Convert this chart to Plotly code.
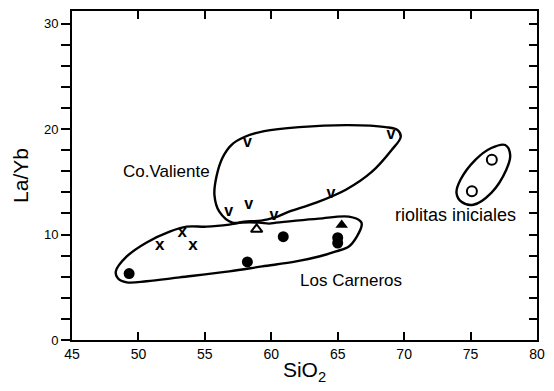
import plotly.graph_objects as go

# Co. Valiente samples (letter "v")
cv_sio2 = [58.2, 69.0, 64.5, 56.8, 58.3, 60.2]
cv_layb = [18.7, 19.4, 13.8, 12.1, 12.8, 11.8]

# Los Carneros samples
lc_x_sio2 = [51.6, 53.3, 54.1]
lc_x_layb = [8.9, 10.2, 8.9]
lc_dot_sio2 = [49.3, 58.2, 60.9, 65.0, 65.0]
lc_dot_layb = [6.3, 7.4, 9.8, 9.7, 9.2]
lc_tri_sio2 = [65.3]
lc_tri_layb = [10.9]
lc_otri_sio2 = [58.9]
lc_otri_layb = [10.5]

# riolitas iniciales
rio_sio2 = [76.6, 75.1]
rio_layb = [17.1, 14.1]

# field outlines (SiO2, La/Yb)
cv_field_x = [57.07, 56.09, 55.72, 55.87, 56.32, 56.99, 57.97, 59.47, 62.09, 65.84, 68.61,
              69.51, 69.74, 69.06, 67.56, 65.61, 63.37, 61.34, 60.22, 59.24, 57.97, 57.07]
cv_field_y = [11.13, 12.17, 13.77, 15.47, 17.26, 18.49, 19.25, 19.81, 20.19, 20.38, 20.19,
              19.91, 19.25, 18.02, 15.94, 14.25, 13.02, 12.17, 11.60, 11.32, 11.23, 11.13]
lc_field_x = [48.30, 49.12, 50.62, 52.35, 53.62, 55.12, 56.84, 57.82, 59.09, 59.84, 60.37,
              61.87, 63.59, 65.84, 66.74, 66.81, 66.44, 65.84, 64.87, 63.59, 61.87, 59.32,
              56.84, 53.10, 50.62, 49.12, 48.45, 48.30]
lc_field_y = [6.51, 7.92, 9.25, 10.28, 10.75, 10.75, 10.94, 11.13, 11.13, 11.04, 11.13,
              11.32, 11.51, 11.70, 11.23, 10.94, 9.81, 8.87, 8.40, 7.92, 7.45, 6.98,
              6.51, 5.94, 5.57, 5.47, 5.85, 6.51]
rio_field_x = [77.61, 77.98, 77.68, 76.56, 75.21, 74.31, 73.94, 74.24, 75.36, 76.56, 77.61]
rio_field_y = [18.49, 17.55, 16.13, 13.96, 12.83, 13.11, 13.96, 15.19, 17.08, 18.21, 18.49]

x_ticks = [45, 50, 55, 60, 65, 70, 75, 80]
y_ticks = [0, 10, 20, 30]

FONT = "Liberation Sans"
INK = "black"

fig = go.Figure()

for fx, fy in [(cv_field_x, cv_field_y), (lc_field_x, lc_field_y), (rio_field_x, rio_field_y)]:
    fig.add_trace(go.Scatter(x=fx, y=fy, mode="lines",
                             line=dict(color=INK, width=2.4, shape="spline", smoothing=1.0),
                             hoverinfo="skip", showlegend=False))

fig.add_trace(go.Scatter(x=cv_sio2, y=cv_layb, mode="text", text=["<b>v</b>"] * len(cv_sio2),
                         textfont=dict(family=FONT, size=16, color=INK), showlegend=False))
fig.add_trace(go.Scatter(x=lc_x_sio2, y=lc_x_layb, mode="text", text=["<b>x</b>"] * len(lc_x_sio2),
                         textfont=dict(family=FONT, size=17, color=INK), showlegend=False))
fig.add_trace(go.Scatter(x=lc_dot_sio2, y=lc_dot_layb, mode="markers",
                         marker=dict(symbol="circle", size=11, color=INK), showlegend=False))
fig.add_trace(go.Scatter(x=lc_tri_sio2, y=lc_tri_layb, mode="markers",
                         marker=dict(symbol="triangle-up", size=11, color=INK), showlegend=False))
fig.add_trace(go.Scatter(x=lc_otri_sio2, y=lc_otri_layb, mode="markers",
                         marker=dict(symbol="triangle-up-open", size=10, color=INK,
                                     line=dict(width=2)), showlegend=False))
fig.add_trace(go.Scatter(x=rio_sio2, y=rio_layb, mode="markers",
                         marker=dict(symbol="circle-open", size=10, color=INK,
                                     line=dict(width=2)), showlegend=False))
# carrier trace for the right-hand axis
fig.add_trace(go.Scatter(x=[45], y=[0], yaxis="y2", mode="markers",
                         marker=dict(opacity=0), hoverinfo="skip", showlegend=False))

labels = [("Co.Valiente", 52.1, 15.95, 17), ("Los Carneros", 66.0, 5.6, 17),
          ("riolitas iniciales", 73.9, 11.9, 18)]
for txt, lx, ly, fs in labels:
    fig.add_annotation(x=lx, y=ly, text=txt, showarrow=False,
                       font=dict(family=FONT, size=fs, color=INK))

fig.update_layout(
    width=554, height=391,
    margin=dict(l=72, r=16, t=9, b=51),
    paper_bgcolor="white", plot_bgcolor="white",
    font=dict(family=FONT, color=INK),
    xaxis=dict(range=[45, 80], tickvals=x_ticks, ticks="inside", ticklen=8, tickwidth=2,
               tickcolor=INK, showline=True, linewidth=2, linecolor=INK, mirror="ticks",
               showgrid=False, zeroline=False, tickfont=dict(size=14),
               title=dict(text="SiO<sub>2</sub>", font=dict(size=21), standoff=2)),
    yaxis=dict(range=[0, 31.2], tickvals=y_ticks, ticks="outside", ticklen=9, tickwidth=2,
               tickcolor=INK, showline=True, linewidth=2, linecolor=INK,
               minor=dict(dtick=2, tick0=0, ticks="outside", ticklen=9, tickwidth=2, tickcolor=INK),
               showgrid=False, zeroline=False, tickfont=dict(size=13),
               title=dict(text="La/Yb", font=dict(size=21), standoff=10)),
    yaxis2=dict(range=[0, 31.2], overlaying="y", side="right", dtick=2, tick0=0,
                ticks="inside", ticklen=8, tickwidth=2, tickcolor=INK, showticklabels=False,
                showline=True, linewidth=2, linecolor=INK, showgrid=False, zeroline=False),
)

fig.write_html("out.html")
